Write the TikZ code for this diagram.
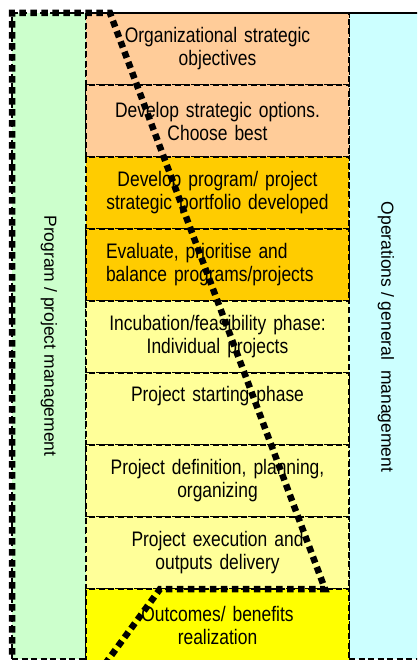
\documentclass[tikz,border=0pt]{standalone}
\usepackage{fontspec}
\setmainfont{Liberation Sans}[FakeStretch=0.83]
\newfontfamily\sidefont{Liberation Sans}
\usepackage{xcolor}
\usepackage{tikz}
\usetikzlibrary{positioning}
\definecolor{peach}{HTML}{FFCC99}
\definecolor{amber}{HTML}{FFCC00}
\definecolor{paleyellow}{HTML}{FFFF99}
\definecolor{brightyellow}{HTML}{FFFF00}
\definecolor{mintgreen}{HTML}{CCFFCC}
\definecolor{palecyan}{HTML}{CCFFFF}

\begin{document}
\begin{tikzpicture}[x=1pt, y=-1pt,
    thindash/.style={draw, line width=1.5pt, dash pattern=on 6pt off 3.5pt},
    phase/.style={thindash, minimum width=263pt, minimum height=72pt,
          text width=223pt, inner xsep=20pt, inner ysep=0pt, outer sep=0pt,
          align=center, font=\fontsize{21}{23}\selectfont},
    panel/.style={thindash, minimum height=646pt, inner sep=0pt, outer sep=0pt},
    sidelabel/.style={rotate=-90, font=\sidefont\fontsize{17.5}{21}\selectfont},
    boundary/.style={line width=6.5pt, dash pattern=on 6.5pt off 4.5pt}]
    \useasboundingbox (0,0) rectangle (417,660);
    \fill[white] (0,0) rectangle (417,660);
    \clip (0,0) rectangle (417,660);

    % side panels
    \node[panel, fill=mintgreen, minimum width=74pt] (prog) at (49,336) {};
    \node[sidelabel] (progtext) at (prog.center) {Program / project management};
    \node[panel, fill=palecyan, minimum width=81pt] (ops) at (389.5,336) {};
    \node[sidelabel] (opstext) at (386,337) {Operations / general\ \ management};

    % phases, top to bottom
    \node[phase, fill=peach] (r1) at (217.5,49) {Organizational strategic\\objectives};
    \node[phase, fill=peach, below=0pt of r1] (r2) {Develop strategic options.\\Choose best};
    \node[phase, fill=amber, below=0pt of r2] (r3) {Develop program/ project\\strategic portfolio developed};
    \node[phase, fill=amber, align=left, below=0pt of r3] (r4) {Evaluate, prioritise and\\balance programs/projects};
    \node[phase, fill=paleyellow, below=0pt of r4] (r5) {Incubation/feasibility phase:\\Individual projects};
    \node[phase, fill=paleyellow, below=0pt of r5] (r6) {Project starting phase\\\strut};
    \node[phase, fill=paleyellow, below=0pt of r6] (r7) {Project definition, planning,\\organizing};
    \node[phase, fill=paleyellow, below=0pt of r7] (r8) {Project execution and\\outputs delivery};
    \node[phase, fill=brightyellow, below=0pt of r8] (r9) {Outcomes/ benefits\\realization};

    \draw[line width=2.6pt] (r1.north west) -- (r1.north west -| ops.east);

    % program boundary
    \coordinate (dipfoot) at (105,664);
    \coordinate (dipleft) at (160,589);
    \coordinate (dipright) at (325,589);
    \coordinate (toptip) at (110,13);
    \draw[boundary] (dipfoot) -- (dipleft) -- (dipright) -- (toptip)
        -- (prog.north west) -- (prog.south west);
  \end{tikzpicture}
\end{document}
